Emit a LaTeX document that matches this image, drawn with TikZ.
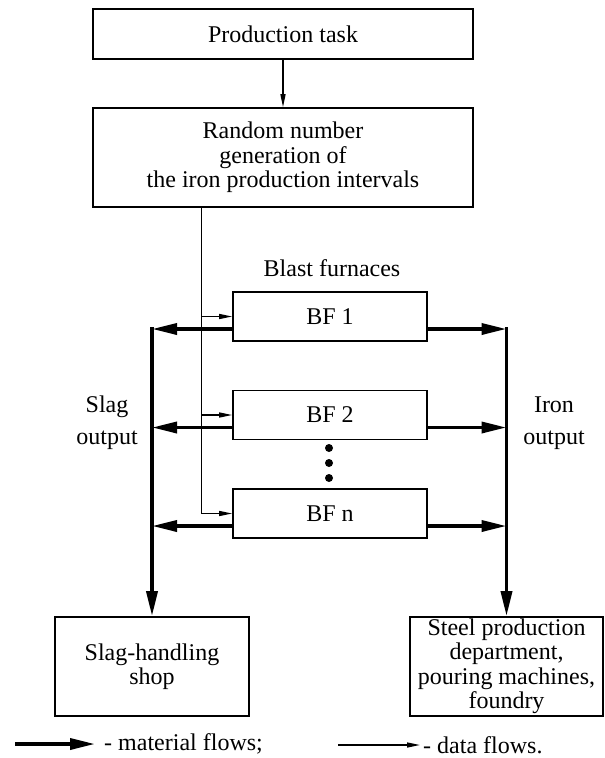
\documentclass[tikz,border=0pt]{standalone}
\usepackage{fontspec}
\setmainfont{Liberation Serif}
\usetikzlibrary{arrows.meta,positioning}
\tikzset{
	box/.style={draw,line width=1.6pt,rectangle,align=center,inner sep=0pt},
	furnace/.style={box,minimum width=194,minimum height=49},
	lbl/.style={align=center,inner sep=0pt},
	dot/.style={circle,fill,inner sep=0pt,minimum size=8pt},
	mat/.style={line width=3.6pt,-{Triangle[length=25pt,width=11pt]}},
	dat/.style={line width=1.4pt,-{Triangle[length=13pt,width=5pt]}}
}
\begin{document}
\begin{tikzpicture}[x=1pt,y=-1pt,font=\fontsize{24}{24.5}\selectfont]
			\useasboundingbox (0,0) rectangle (605,758);
			\node[box,minimum width=380,minimum height=50] (task) at (283,34) {Production task};
			\node[box,minimum width=380,minimum height=99] (rng) at (283,157.5) {Random number\\generation of\\the iron production intervals};
			\node[lbl] (bflbl) at (332,268) {Blast furnaces};
			\node[furnace] (bf1) at (330,316.5) {BF 1};
			\node[furnace] (bf2) at (330,415) {BF 2};
			\node[furnace] (bfn) at (330,513.5) {BF n};
			\node[dot] (d1) at (329,448) {};
			\node[dot] (d2) at (329,463) {};
			\node[dot] (d3) at (329,478) {};
			\node[lbl,font=\fontsize{24}{32}\selectfont] (slaglbl) at (107,423) {Slag\\output};
			\node[lbl,font=\fontsize{24}{32}\selectfont] (ironlbl) at (554,423) {Iron\\output};
			\node[box,minimum width=194,minimum height=99] (slag) at (152,666.5) {Slag-handling\\shop};
			\node[box,minimum width=193,minimum height=99] (steel) at (506.5,666.5) {Steel production\\department,\\pouring machines,\\foundry};
			\coordinate (sl) at (152,327);
			\coordinate (ir) at (506.5,327);
			\coordinate (dl) at ([xshift=109pt]rng.south west);
			
			\draw[dat] (task) -- (rng);
			\draw[dat] (dl) |- (bfn.west);
			\foreach \b in {bf1,bf2}
				\draw[dat] (\b.west -| dl) -- (\b.west);
			\foreach \b in {bf1,bf2,bfn}{
				\draw[mat] ([yshift=-12.5pt]\b.west) -- ([yshift=-12.5pt]\b.west -| sl);
				\draw[mat] ([yshift=-12.5pt]\b.east) -- ([yshift=-12.5pt]\b.east -| ir);
			}
			\draw[mat] (sl) -- (slag);
			\draw[mat] (ir) -- (steel);
			
			\coordinate (m1) at (15,744);
			\coordinate (m2) at (95,744);
			\coordinate (f1) at (338,745);
			\coordinate (f2) at (420,745);
			\draw[mat] (m1) -- (m2);
			\draw[dat] (f1) -- (f2);
			\node[lbl,anchor=west] (mtxt) at (104,744) {- material flows;};
			\node[lbl,anchor=west] (ftxt) at (423,745) {- data flows.};
		\end{tikzpicture}
\end{document}
